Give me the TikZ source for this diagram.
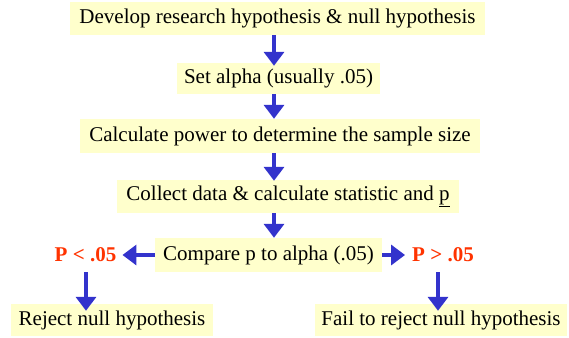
\documentclass[tikz,border=0pt]{standalone}
\usepackage{fontspec}
\setmainfont{Liberation Serif}
\usetikzlibrary{arrows.meta}
\definecolor{boxfill}{HTML}{FFFFCC}
\definecolor{arrblue}{HTML}{3333CC}
\definecolor{pred}{HTML}{FF3300}
\tikzset{
  stepbox/.style={fill=boxfill, inner sep=0pt, minimum height=33pt, font=\fontsize{21}{24}\selectfont},
  flowarrow/.style={draw=arrblue, line width=4pt, -{Triangle[width=20pt,length=14pt]}},
  ptext/.style={text=pred, font=\fontsize{21}{24}\selectfont\bfseries, inner sep=0pt}
}
\begin{document}
\begin{tikzpicture}[x=1pt,y=-1pt]
\useasboundingbox (0,0) rectangle (569,337);
\node[stepbox, minimum width=415pt] (b1) at (277.5,18.5) {Develop research hypothesis \& null hypothesis};
\node[stepbox, minimum width=203pt, minimum height=31pt] (b2) at (278.5,78.5) {Set alpha (usually .05)};
\node[stepbox, minimum width=400pt, minimum height=34pt] (b3) at (280,136) {Calculate power to determine the sample size};
\node[stepbox, minimum width=342pt] (b4) at (288,196.5) {Collect data \& calculate statistic and \underline{p}};
\node[stepbox, minimum width=227pt, minimum height=34pt] (b5) at (268.5,255) {Compare p to alpha (.05)};
\node[ptext] (pl) at (85.5,255) {P < .05};
\node[ptext] (pg) at (443,255) {P > .05};
\node[stepbox, minimum width=202pt, minimum height=32pt] (rej) at (112,320) {Reject null hypothesis};
\node[stepbox, minimum width=252pt, minimum height=32pt] (fail) at (441,320) {Fail to reject null hypothesis};
\coordinate (ax) at (274,0);
\coordinate (lx) at (86,0);
\coordinate (rx) at (438,0);
\draw[flowarrow] (b1.south -| ax) -- ([yshift=-3pt]b2.north -| ax);
\draw[flowarrow] (b2.south -| ax) -- (b3.north -| ax);
\draw[flowarrow] (b3.south -| ax) -- ([yshift=-1pt]b4.north -| ax);
\draw[flowarrow] (b4.south -| ax) -- (b5.north -| ax);
\draw[flowarrow] (b5.west) -- ([xshift=6pt]pl.east);
\draw[flowarrow] (b5.east) -- ([xshift=-7pt]pg.west);
\draw[flowarrow] (b5.south -| lx) -- ([yshift=-7pt]rej.north -| lx);
\draw[flowarrow] (b5.south -| rx) -- ([yshift=-7pt]fail.north -| rx);
\end{tikzpicture}
\end{document}
